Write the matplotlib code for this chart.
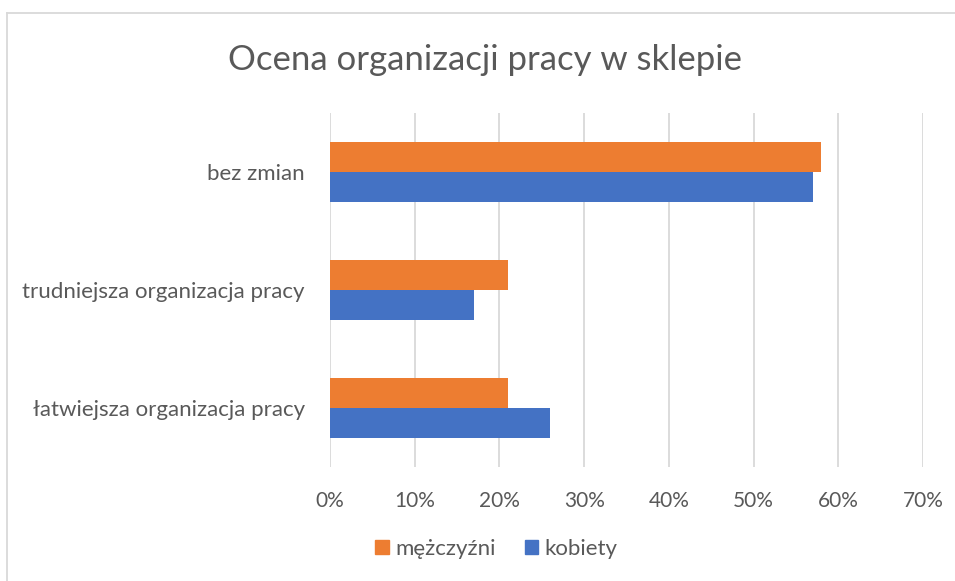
import matplotlib
matplotlib.use("Agg")
import matplotlib.pyplot as plt
from matplotlib.lines import Line2D
from matplotlib.ticker import FuncFormatter
import numpy as np

plt.rcParams['font.family'] = ['Lato', 'DejaVu Sans']

categories = ["łatwiejsza organizacja pracy", "trudniejsza organizacja pracy", "bez zmian"]
men = [21, 21, 58]
women = [26, 17, 57]
series_names = ["mężczyźni", "kobiety"]
title = "Ocena organizacji pracy w sklepie"
xticks = [0, 10, 20, 30, 40, 50, 60, 70]

c_men = "#ED7D31"
c_women = "#4472C4"
txt = "#595959"
grid = "#D9D9D9"

fig = plt.figure(figsize=(9.55, 5.81), dpi=100)
ax = fig.add_axes([0.3455, 0.196, 0.621, 0.6093])

y = np.arange(len(categories))
h = 0.255
ax.barh(y + h / 2, men, height=h, color=c_men, label=series_names[0], zorder=3)
ax.barh(y - h / 2, women, height=h, color=c_women, label=series_names[1], zorder=3)

ax.set_xlim(0, 70)
ax.set_ylim(-0.5, 2.5)
ax.set_xticks(xticks)
ax.xaxis.set_major_formatter(FuncFormatter(lambda v, p: f"{int(v)}%"))
ax.set_yticks(y)
ax.set_yticklabels(categories)
ax.grid(axis="x", color=grid, linewidth=1.3, zorder=0)
for s in ax.spines.values():
    s.set_visible(False)
ax.tick_params(axis="both", length=0, colors=txt)
ax.tick_params(axis="x", pad=17, labelsize=15)
ax.tick_params(axis="y", pad=18, labelsize=16)

fig.suptitle(title, x=0.508, y=0.925, fontsize=25, color=txt)

leg = fig.legend(handles=[
    plt.Rectangle((0, 0), 1, 1, color=c_men),
    plt.Rectangle((0, 0), 1, 1, color=c_women)],
    labels=series_names, loc="center", bbox_to_anchor=(0.52, 0.055), ncol=2,
    frameon=False, fontsize=16, handlelength=0.6, handleheight=0.6,
    handletextpad=0.3, columnspacing=1.3, labelcolor=txt)

# chart border
fig.add_artist(Line2D([7 / 955, 7 / 955], [0, 1 - 12.7 / 581], transform=fig.transFigure, color=grid, linewidth=1.3))
fig.add_artist(Line2D([7 / 955, 1], [1 - 12.7 / 581, 1 - 12.7 / 581], transform=fig.transFigure, color=grid, linewidth=1.3))

fig.savefig("out.png", dpi=100)
